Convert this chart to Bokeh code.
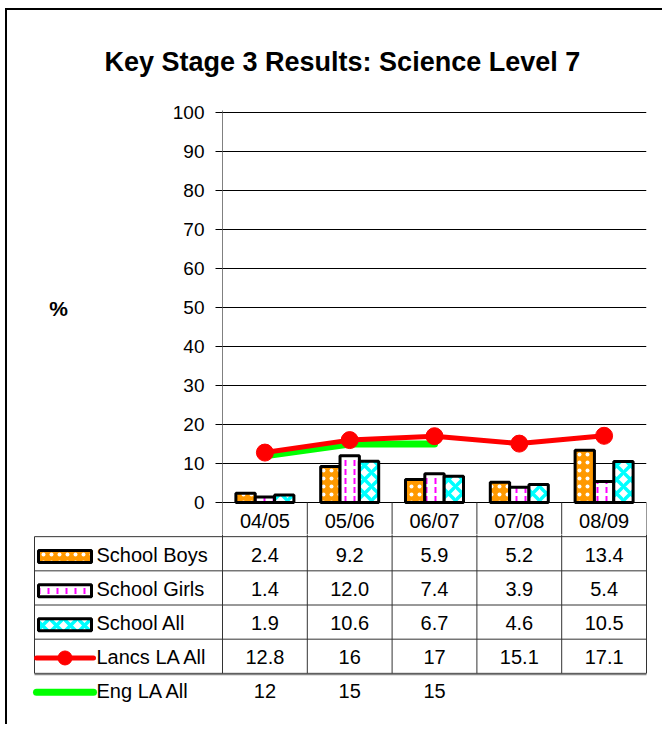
from bokeh.plotting import figure
from bokeh.models import Range1d, FixedTicker, ColumnDataSource
from bokeh.layouts import column
from bokeh.embed import file_html
from bokeh.resources import INLINE
from bokeh.core.properties import value

# ---------------- data ----------------
title_text = "Key Stage 3 Results: Science Level 7"
categories = ["04/05", "05/06", "06/07", "07/08", "08/09"]
school_boys = [2.4, 9.2, 5.9, 5.2, 13.4]
school_girls = [1.4, 12.0, 7.4, 3.9, 5.4]
school_all = [1.9, 10.6, 6.7, 4.6, 10.5]
lancs_la_all = [12.8, 16, 17, 15.1, 17.1]
eng_la_all = [12, 15, 15]
series_names = ["School Boys", "School Girls", "School All", "Lancs LA All", "Eng LA All"]
y_ticks = [0, 10, 20, 30, 40, 50, 60, 70, 80, 90, 100]
y_label = "%"

# ---------------- layout constants ----------------
FONT = "Liberation Sans"
PXX = 84.8      # px per category
PXY = 3.9       # px per percent
RH = 34.17      # table row height px
W = 655
CH = 524        # chart figure height (page y 10 -> 534)
TH = 190        # table figure height (page y 534 -> 724)

n = len(categories)
centers = [i + 0.5 for i in range(n)]

# ---------------- chart ----------------
p = figure(width=W, height=CH, output_backend="svg", toolbar_location=None,
           x_range=Range1d(0, n), y_range=Range1d(-32 / PXY, 100 + 2 / PXY),
           x_axis_location=None, min_border_left=215, min_border_right=W - 215 - 424,
           min_border_top=100, min_border_bottom=0, outline_line_color=None,
           background_fill_color="white", border_fill_color="white", frame_align=False)
p.title.text = title_text
p.title.align = "left"
p.title.offset = 104 - 222
p.title.standoff = 68
p.title.text_font = FONT
p.title.text_font_size = "27px"
p.title.text_font_style = "bold"
p.title.text_color = "black"

p.xgrid.visible = False
p.ygrid.ticker = FixedTicker(ticks=y_ticks)
p.ygrid.grid_line_color = "black"
p.ygrid.grid_line_width = 1
ax = p.yaxis[0]
ax.ticker = FixedTicker(ticks=y_ticks)
ax.major_label_text_font = FONT
ax.major_label_text_font_size = "19px"
ax.major_label_text_color = "black"
ax.major_tick_out = 7
ax.major_tick_in = 0
ax.minor_tick_out = 0
ax.minor_tick_in = 0
ax.major_tick_line_color = "black"
ax.axis_line_color = "#808080"
ax.axis_line_width = 1
ax.major_label_standoff = 11
ax.axis_label = y_label + "\n "
ax.axis_label_orientation = "horizontal"
ax.axis_label_text_font = FONT
ax.axis_label_text_font_size = "21px"
ax.axis_label_text_font_style = "bold"
ax.axis_label_text_color = "black"
ax.axis_label_text_align = "center"
ax.axis_label_standoff = 102

bw = 0.228
offs = [-bw, 0, bw]
bar_styles = [
    dict(fill_color="#FF9900", hatch_pattern="dot", hatch_color="white", hatch_scale=8, hatch_weight=1),
    dict(fill_color="white", hatch_pattern="vertical_dash", hatch_color="#FF00FF", hatch_scale=9, hatch_weight=2),
    dict(fill_color="white", hatch_pattern="diagonal_cross", hatch_color="#00FFFF", hatch_scale=14, hatch_weight=3.5),
]
for vals, off, st in zip([school_boys, school_girls, school_all], offs, bar_styles):
    src = ColumnDataSource(dict(x=[c + off for c in centers], top=vals))
    p.vbar(x="x", top="top", bottom=0, width=bw, source=src,
           line_color="black", line_width=3, **st)

# header row of the data table (category labels) and its column separators
p.segment(x0=list(range(n + 1)), y0=[0] * (n + 1), x1=list(range(n + 1)), y1=[-20] * (n + 1),
          line_color="#333333", line_width=1)
p.text(x=centers, y=[-(520 - 502) / PXY] * n, text=categories, text_align="center",
       text_baseline="middle", text_font=value(FONT), text_font_size="20px", text_color="black")

p.line(centers[:len(eng_la_all)], eng_la_all, line_color="#00FF00", line_width=7, line_cap="round")
p.line(centers, lancs_la_all, line_color="#FF0000", line_width=5, line_cap="round", line_join="round")
p.scatter(centers, lancs_la_all, size=17, marker="circle", fill_color="#FF0000", line_color="#FF0000")

# ---------------- table ----------------
left = -(222 - 34) / PXX
t = figure(width=W, height=TH, output_backend="svg", toolbar_location=None,
           x_range=Range1d(-192 / PXX, 428 / PXX),
           y_range=Range1d((712 - 502) / RH, (534 - 502) / RH),
           x_axis_location=None, y_axis_location=None,
           min_border_left=23, min_border_right=W - 23 - 620, min_border_top=0, min_border_bottom=12,
           outline_line_color=None, background_fill_color="white", border_fill_color="white",
           frame_align=False)
t.xgrid.visible = False
t.ygrid.visible = False

rows = len(series_names)
# horizontal lines
t.segment(x0=[left] * rows, y0=[r + 1 for r in range(rows)], x1=[n] * rows,
          y1=[r + 1 for r in range(rows)], line_color="#333333", line_width=1)
t.segment(x0=[left], y0=[rows + 0.03], x1=[n], y1=[rows + 0.03], line_color="#888888", line_width=1.5)
# vertical lines
t.segment(x0=list(range(n + 1)), y0=[0] * (n + 1), x1=list(range(n + 1)), y1=[rows] * (n + 1),
          line_color="#333333", line_width=1)
t.segment(x0=[left], y0=[1], x1=[left], y1=[rows], line_color="#333333", line_width=1)

txt = dict(text_font=value(FONT), text_font_size="20px", text_color="black", text_baseline="middle")

fmt_school = lambda v: f"{v:.1f}"
fmt_la = lambda v: f"{v:g}"
table_rows = [
    [fmt_school(v) for v in school_boys],
    [fmt_school(v) for v in school_girls],
    [fmt_school(v) for v in school_all],
    [fmt_la(v) for v in lancs_la_all],
    [fmt_la(v) for v in eng_la_all],
]
for r, vals in enumerate(table_rows):
    t.text(x=centers[:len(vals)], y=[r + 1.53] * len(vals), text=vals, text_align="center", **txt)

# legend labels
t.text(x=[(96 - 222) / PXX] * rows, y=[r + 1.53 for r in range(rows)], text=series_names,
       text_align="left", **txt)

# swatches
sw_x = (64.5 - 222) / PXX
sw_w = 53 / PXX
sw_h = 12 / RH
for r, st in enumerate(bar_styles):
    t.rect(x=[sw_x], y=[r + 1.58], width=sw_w, height=sw_h, line_color="black", line_width=3, **st)
lx0 = (36 - 222) / PXX
lx1 = (93 - 222) / PXX
t.line([lx0, lx1], [4.55, 4.55], line_color="#FF0000", line_width=5, line_cap="round")
t.scatter([sw_x], [4.55], size=14, marker="circle", fill_color="#FF0000", line_color="#FF0000")
t.line([lx0, lx1], [5.55, 5.55], line_color="#00FF00", line_width=7, line_cap="round")

layout = column(p, t, spacing=0, margin=(8, 0, 0, 5),
                styles={"border-left": "2px solid black", "border-top": "2px solid black"})

open("out.html", "w").write(file_html(layout, INLINE))
